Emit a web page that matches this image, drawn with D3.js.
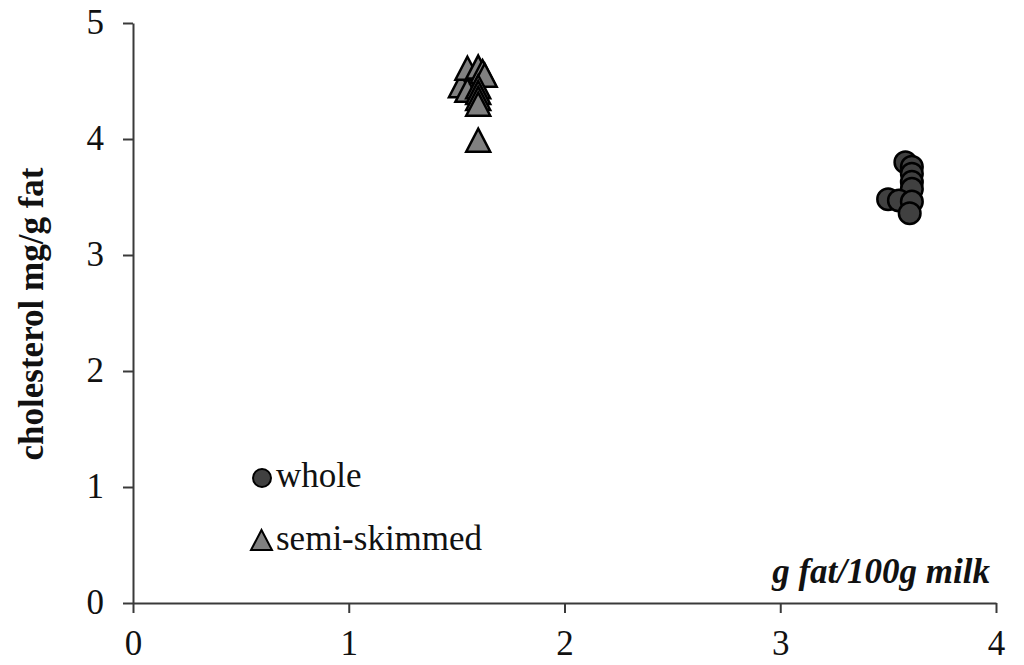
<!DOCTYPE html>
<html><head><meta charset="utf-8">
<script src="https://cdn.jsdelivr.net/npm/d3@7"></script>
<style>body{margin:0;background:#fff}svg{display:block}</style>
</head><body><svg id="c" width="1024" height="665"></svg>
<script>
const xTicks = [0,1,2,3,4];
const yTicks = [0,1,2,3,4,5];
const wholeX = [3.58,3.61,3.61,3.61,3.61,3.50,3.55,3.61,3.60];
const wholeY = [3.80,3.76,3.70,3.63,3.57,3.48,3.47,3.46,3.36];
const semiX = [1.52,1.55,1.55,1.60,1.62,1.63,1.60,1.60,1.60,1.60,1.60];
const semiY = [4.46,4.42,4.61,4.62,4.58,4.55,4.45,4.40,4.35,4.30,3.99];
const seriesNames = ["whole","semi-skimmed"];

const svg = d3.select("#c");
const x = d3.scaleLinear().domain([0,4]).range([133,996]);
const y = d3.scaleLinear().domain([0,5]).range([603,23]);
const font = "'Liberation Serif', 'Times New Roman', serif";
const FS = 35;

const xa = svg.append("g").attr("transform","translate(0,603)")
  .call(d3.axisBottom(x).tickValues(xTicks).tickSize(10).tickSizeOuter(0).tickFormat(d3.format("d")));
const ya = svg.append("g").attr("transform","translate(133,0)")
  .call(d3.axisLeft(y).tickValues(yTicks).tickSize(10).tickSizeOuter(0).tickFormat(d3.format("d")));
[xa,ya].forEach(a=>{
  a.selectAll("path,line").attr("stroke","#3a3a3a").attr("stroke-width",2);
  a.selectAll("text").attr("font-family",font).attr("font-size",FS).attr("fill","#111");
});
xa.selectAll("text").attr("y",52).attr("dy",0);
ya.selectAll("text").attr("x",-29).attr("dy","0.3em");

// isoceles triangle symbol (bbox-centred)
const triType = {draw(ctx,size){const w=Math.sqrt(size),h=w*0.96;ctx.moveTo(0,-h/2);ctx.lineTo(w/2,h/2);ctx.lineTo(-w/2,h/2);ctx.closePath();}};

// whole circles
svg.append("g").selectAll("circle").data(wholeX.map((v,i)=>[v,wholeY[i]])).join("circle")
  .attr("cx",d=>x(d[0])).attr("cy",d=>y(d[1])).attr("r",10.8)
  .attr("fill","#404040").attr("stroke","#000").attr("stroke-width",2.5);

// triangles
svg.append("g").selectAll("path").data(semiX.map((v,i)=>[v,semiY[i]])).join("path")
  .attr("d",d3.symbol().type(triType).size(24*24)).attr("transform",d=>`translate(${x(d[0])},${y(d[1])})`)
  .attr("fill","#808080").attr("stroke","#000").attr("stroke-width",2.5).attr("stroke-linejoin","miter");

// legend
const lg = svg.append("g");
lg.append("circle").attr("cx",262).attr("cy",478).attr("r",9).attr("fill","#404040").attr("stroke","#000").attr("stroke-width",2);
lg.append("path").attr("d",d3.symbol().type(triType).size(21*21)).attr("transform","translate(261.5,540)")
  .attr("fill","#808080").attr("stroke","#000").attr("stroke-width",2);
lg.append("text").attr("x",276).attr("y",487).text(seriesNames[0]).attr("font-family",font).attr("font-size",FS).attr("fill","#111");
lg.append("text").attr("x",276).attr("y",550).text(seriesNames[1]).attr("font-family",font).attr("font-size",FS).attr("fill","#111");

// axis titles
svg.append("text").attr("transform","translate(43,314) rotate(-90)").attr("text-anchor","middle")
  .attr("font-family",font).attr("font-weight","bold").attr("font-size",FS).attr("fill","#111").text("cholesterol mg/g fat");
svg.append("text").attr("x",990).attr("y",583).attr("text-anchor","end")
  .attr("font-family",font).attr("font-weight","bold").attr("font-style","italic").attr("font-size",FS).attr("fill","#111").text("g fat/100g milk");
</script></body></html>
